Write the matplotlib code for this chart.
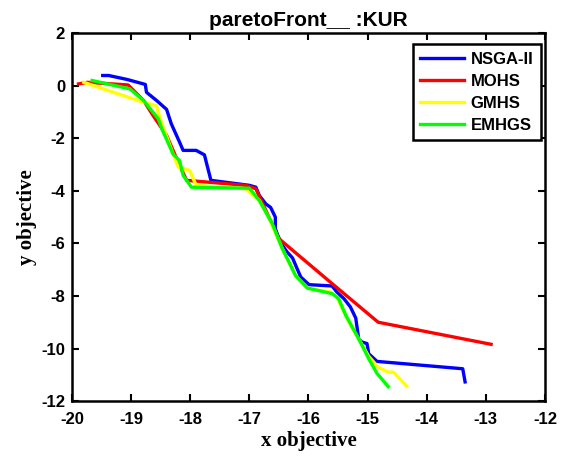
import matplotlib
matplotlib.use("Agg")
import matplotlib.pyplot as plt

plt.rcParams['axes.unicode_minus'] = False

nsga_x = [-19.48, -19.38, -19.07, -18.76, -18.74, -18.57, -18.40, -18.32, -18.18, -18.12,
          -17.90, -17.76, -17.65, -17.00, -16.89, -16.83, -16.72, -16.64, -16.56, -16.56,
          -16.52, -16.44, -16.36, -16.27, -16.19, -16.13, -15.99, -15.60, -15.52, -15.40,
          -15.29, -15.20, -15.15, -15.10, -15.01, -14.98, -14.84, -13.39, -13.35]
nsga_y = [0.39, 0.39, 0.24, 0.05, -0.25, -0.56, -0.90, -1.45, -2.15, -2.46,
          -2.46, -2.63, -3.60, -3.79, -3.86, -4.18, -4.50, -4.63, -5.00, -5.44,
          -5.69, -6.08, -6.33, -6.55, -6.97, -7.28, -7.57, -7.62, -7.85, -8.10,
          -8.42, -8.84, -9.63, -9.75, -9.81, -10.20, -10.49, -10.77, -11.27]

mohs_x = [-19.89, -19.74, -19.05, -18.79, -18.63, -18.40, -18.18, -18.06, -17.06, -16.89,
          -16.50, -15.60, -14.82, -12.91]
mohs_y = [0.07, 0.13, 0.03, -0.56, -1.13, -1.89, -3.03, -3.60, -3.79, -3.92,
          -5.82, -7.53, -9.00, -9.84]

gmhs_x = [-19.80, -18.79, -18.57, -18.51, -18.29, -18.20, -18.01, -17.90, -17.06, -16.83,
          -16.66, -16.55, -16.44, -16.33, -16.22, -16.02, -15.63, -15.52, -15.40, -15.29,
          -15.15, -14.98, -14.82, -14.65, -14.56, -14.34]
gmhs_y = [0.13, -0.63, -0.76, -1.26, -2.60, -3.10, -3.22, -3.79, -3.92, -4.37,
          -5.07, -5.64, -6.21, -6.71, -7.22, -7.70, -7.85, -8.05, -8.60, -9.10,
          -9.63, -10.30, -10.71, -10.90, -10.90, -11.43]

emhgs_x = [-19.66, -19.02, -18.79, -18.54, -18.48, -18.29, -18.18, -18.12, -17.98, -17.00,
           -16.83, -16.61, -16.44, -16.33, -16.22, -16.02, -15.60, -15.49, -15.37, -15.15,
           -14.98, -14.84, -14.65]
emhgs_y = [0.20, -0.12, -0.56, -1.26, -1.64, -2.60, -2.85, -3.41, -3.86, -3.90,
           -4.37, -5.26, -6.21, -6.71, -7.22, -7.70, -7.91, -8.10, -8.73, -9.63,
           -10.39, -10.95, -11.45]

fig = plt.figure(figsize=(5.67, 4.61), dpi=100)
ax = fig.add_axes([0.127, 0.130, 0.834, 0.798])

ax.plot(nsga_x, nsga_y, color='#0000ff', lw=2.4, label='NSGA-II')
ax.plot(mohs_x, mohs_y, color='#ff0000', lw=2.4, label='MOHS')
ax.plot(gmhs_x, gmhs_y, color='#ffff00', lw=2.4, label='GMHS')
ax.plot(emhgs_x, emhgs_y, color='#00ff00', lw=2.4, label='EMHGS')

ax.set_xlim(-20, -12)
ax.set_ylim(-12, 2)
ax.set_xticks(range(-20, -11))
ax.set_yticks(range(-12, 3, 2))
ax.tick_params(direction='in', top=True, right=True, width=1.5, length=5,
               labelsize=12)
ax.tick_params(axis='x', pad=8)
ax.tick_params(axis='y', pad=5)
for lab in ax.get_xticklabels() + ax.get_yticklabels():
    lab.set_fontfamily('Liberation Sans')
    lab.set_fontweight('bold')
for s in ax.spines.values():
    s.set_linewidth(1.8)

ax.set_title('paretoFront__ :KUR', fontsize=15, fontweight='bold',
             family='Liberation Sans', pad=5)
ax.set_xlabel('x objective', fontsize=15, fontweight='bold', family='Liberation Serif',
              labelpad=3)
ax.set_ylabel('y objective', fontsize=15, fontweight='bold', family='Liberation Serif',
              labelpad=3)

leg = ax.legend(loc='upper right', bbox_to_anchor=(0.991, 0.97), borderaxespad=0,
                fancybox=False, edgecolor='black', framealpha=1,
                prop={'family': 'Liberation Sans', 'weight': 'bold', 'size': 12},
                handlelength=2.6, borderpad=0.45, labelspacing=0.42, handletextpad=0.4)
leg.get_frame().set_linewidth(1.8)

fig.savefig('out.png', dpi=100)
